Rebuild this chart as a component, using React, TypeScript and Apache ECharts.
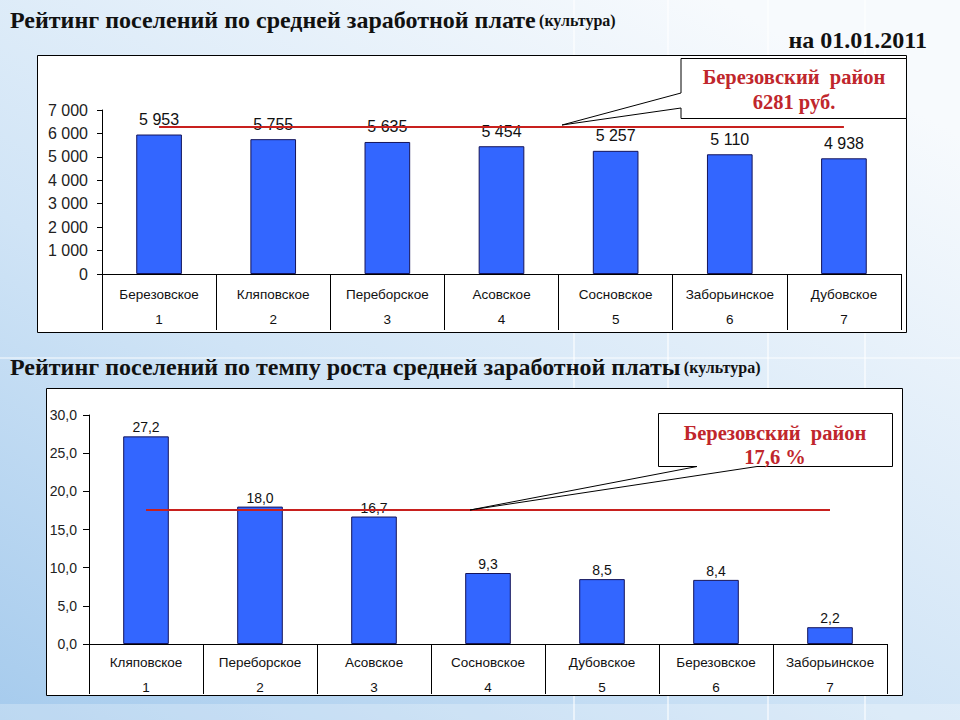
import React, { useEffect, useRef } from "react";
import * as echarts from "echarts";

// ---- Chart 1: average salary (culture) ----
const salaryCategories = ["Березовское", "Кляповское", "Переборское", "Асовское", "Сосновское", "Заборьинское", "Дубовское"];
const salaryValues = [5953, 5755, 5635, 5454, 5257, 5110, 4938];
const salaryRanks = ["1", "2", "3", "4", "5", "6", "7"];
const salaryDistrictAvg = 6281;
const salaryTicks = [0, 1000, 2000, 3000, 4000, 5000, 6000, 7000];

// ---- Chart 2: growth rate of salary (culture) ----
const growthCategories = ["Кляповское", "Переборское", "Асовское", "Сосновское", "Дубовское", "Березовское", "Заборьинское"];
const growthValues = [27.2, 18.0, 16.7, 9.3, 8.5, 8.4, 2.2];
const growthRanks = ["1", "2", "3", "4", "5", "6", "7"];
const growthDistrictAvg = 17.6;
const growthTicks = [0, 5, 10, 15, 20, 25, 30];

const title1 = "Рейтинг поселений по средней заработной плате";
const title2 = "Рейтинг поселений по темпу роста средней заработной платы";
const titleNote = "(культура)";
const dateText = "на 01.01.2011";
const callout1 = ["Березовский  район", "6281 руб."];
const callout2 = ["Березовский  район", "17,6 %"];

const BAR = "#3366ff";
const RED = "#c8201e";
const CALLOUT_RED = "#c0262c";
const SANS = "'Liberation Sans', Arial, sans-serif";
const SERIF = "'Liberation Serif', 'Times New Roman', serif";

const fmtThousands = (v: number) => String(Math.round(v)).replace(/\B(?=(\d{3})+(?!\d))/g, " ");
const fmtComma = (v: number) => v.toFixed(1).replace(".", ",");

export default function App() {
  const ref = useRef<HTMLDivElement>(null);

  useEffect(() => {
    if (!ref.current) return;
    const chart = echarts.init(ref.current, undefined, { renderer: "svg" });

    const catAxis = (gridIndex: number, cats: string[], ranks: string[], margin: number) => ({
      type: "category",
      gridIndex,
      data: cats,
      boundaryGap: true,
      axisLine: { show: true, lineStyle: { color: "#000", width: 1 } },
      axisTick: { show: true, alignWithLabel: false, length: gridIndex === 0 ? 56 : 50, lineStyle: { color: "#000", width: 1 } },
      axisLabel: {
        interval: 0,
        margin,
        formatter: (v: string, i: number) => `{n|${v}}\n{r|${ranks[i]}}`,
        rich: {
          n: { fontFamily: SANS, fontSize: 13.5, color: "#111", lineHeight: 25 },
          r: { fontFamily: SANS, fontSize: 13.5, color: "#111", lineHeight: 25 },
        },
      },
      splitLine: { show: false },
    });

    const titleRich = {
      a: { fontFamily: SERIF, fontWeight: "bold", fontSize: 24, fill: "#111" },
      b: { fontFamily: SERIF, fontWeight: "bold", fontSize: 16, fill: "#111" },
    };

    const option: any = {
      animation: false,
      backgroundColor: {
        type: "linear",
        x: 0, y: 1, x2: 0.75, y2: 0,
        colorStops: [
          { offset: 0, color: "#a6cbed" },
          { offset: 0.45, color: "#d0e4f6" },
          { offset: 1, color: "#f7fafd" },
        ],
      },
      grid: [
        { left: 102, right: 59, top: 110, height: 164, containLabel: false },
        { left: 89, right: 73, top: 415, height: 229, containLabel: false },
      ],
      xAxis: [catAxis(0, salaryCategories, salaryRanks, 8), catAxis(1, growthCategories, growthRanks, 6)],
      yAxis: [
        {
          type: "value", gridIndex: 0, min: salaryTicks[0], max: salaryTicks[salaryTicks.length - 1], interval: 1000,
          axisLine: { show: true, lineStyle: { color: "#000" } },
          axisTick: { show: true, length: 5, lineStyle: { color: "#000" } },
          axisLabel: { fontFamily: SANS, fontSize: 16, color: "#222", margin: 14, formatter: (v: number) => fmtThousands(v) },
          splitLine: { show: false },
        },
        {
          type: "value", gridIndex: 1, min: growthTicks[0], max: growthTicks[growthTicks.length - 1], interval: 5,
          axisLine: { show: true, lineStyle: { color: "#000" } },
          axisTick: { show: true, length: 6, lineStyle: { color: "#000" } },
          axisLabel: { fontFamily: SANS, fontSize: 14, color: "#222", margin: 12, formatter: (v: number) => fmtComma(v) },
          splitLine: { show: false },
        },
      ],
      series: [
        {
          type: "bar", xAxisIndex: 0, yAxisIndex: 0, data: salaryValues, barWidth: "40%",
          itemStyle: { color: BAR, borderColor: "#14145a", borderWidth: 1 },
          label: { show: true, position: "top", distance: 7, fontFamily: SANS, fontSize: 16, color: "#111", formatter: (p: any) => fmtThousands(p.value) },
          markLine: {
            silent: true, symbol: "none", label: { show: false },
            lineStyle: { color: RED, width: 2, type: "solid" },
            data: [[{ coord: [salaryCategories[0], salaryDistrictAvg] }, { coord: [salaryCategories[salaryCategories.length - 1], salaryDistrictAvg] }]],
          },
          z: 2,
        },
        {
          type: "bar", xAxisIndex: 1, yAxisIndex: 1, data: growthValues, barWidth: "40%",
          itemStyle: { color: BAR, borderColor: "#14145a", borderWidth: 1 },
          label: { show: true, position: "top", distance: 2, fontFamily: SANS, fontSize: 14, color: "#111", formatter: (p: any) => fmtComma(p.value) },
          markLine: {
            silent: true, symbol: "none", label: { show: false },
            lineStyle: { color: RED, width: 2, type: "solid" },
            data: [[{ coord: [growthCategories[0], growthDistrictAvg] }, { coord: [growthCategories[growthCategories.length - 1], growthDistrictAvg] }]],
          },
          z: 2,
        },
      ],
      graphic: [
        // faint slide grid lines
        ...[574, 668, 768, 865].map((x) => ({ type: "line", z: -20, silent: true, shape: { x1: x, y1: 0, x2: x, y2: 720 }, style: { stroke: "rgba(255,255,255,0.55)", lineWidth: 2 } })),
        { type: "line", z: -20, silent: true, shape: { x1: 0, y1: 358, x2: 960, y2: 358 }, style: { stroke: "rgba(255,255,255,0.45)", lineWidth: 2 } },
        { type: "rect", z: -20, silent: true, shape: { x: 0, y: 704, width: 960, height: 16 }, style: { fill: "rgba(255,255,255,0.25)" } },
        // frames
        { type: "rect", z: -10, silent: true, shape: { x: 37.5, y: 55.5, width: 869, height: 277 }, style: { fill: "#fff", stroke: "#000", lineWidth: 1 } },
        { type: "rect", z: -10, silent: true, shape: { x: 46.5, y: 388.5, width: 856, height: 307 }, style: { fill: "#fff", stroke: "#000", lineWidth: 1 } },
        // titles
        { type: "text", left: 10, top: 8, z: 50, style: { text: `{a|${title1}} {b|${titleNote}}`, rich: titleRich } },
        { type: "text", right: 33, top: 28, z: 50, style: { text: dateText, fontFamily: SERIF, fontWeight: "bold", fontSize: 24, fill: "#111" } },
        { type: "text", left: 10, top: 355, z: 50, style: { text: `{a|${title2}} {b|${titleNote}}`, rich: titleRich } },
        // callout 1
        {
          type: "polygon", z: 60, silent: true,
          shape: { points: [[681, 58.5], [906.5, 58.5], [906.5, 118.5], [681, 118.5], [681, 108], [562, 125], [681, 93]] },
          style: { fill: "#fff", stroke: "#000", lineWidth: 1 },
        },
        { type: "text", z: 61, x: 794, y: 77, style: { text: callout1[0], fontFamily: SERIF, fontWeight: "bold", fontSize: 20.5, fill: CALLOUT_RED, align: "center", verticalAlign: "middle" } },
        { type: "text", z: 61, x: 794, y: 102, style: { text: callout1[1], fontFamily: SERIF, fontWeight: "bold", fontSize: 20.5, fill: CALLOUT_RED, align: "center", verticalAlign: "middle" } },
        // callout 2
        {
          type: "polygon", z: 60, silent: true,
          shape: { points: [[658.5, 413.5], [892.5, 413.5], [892.5, 466.5], [757, 466.5], [470, 510], [697, 466.5], [658.5, 466.5]] },
          style: { fill: "#fff", stroke: "#000", lineWidth: 1 },
        },
        { type: "text", z: 61, x: 775, y: 433, style: { text: callout2[0], fontFamily: SERIF, fontWeight: "bold", fontSize: 20.5, fill: CALLOUT_RED, align: "center", verticalAlign: "middle" } },
        { type: "text", z: 61, x: 775, y: 457, style: { text: callout2[1], fontFamily: SERIF, fontWeight: "bold", fontSize: 20.5, fill: CALLOUT_RED, align: "center", verticalAlign: "middle" } },
      ],
    };

    chart.setOption(option);
    return () => chart.dispose();
  }, []);

  return (
    <div style={{ position: "absolute", left: 0, top: 0, width: 960, height: 720, overflow: "hidden" }}>
      <div ref={ref} style={{ width: 960, height: 720 }} />
    </div>
  );
}
